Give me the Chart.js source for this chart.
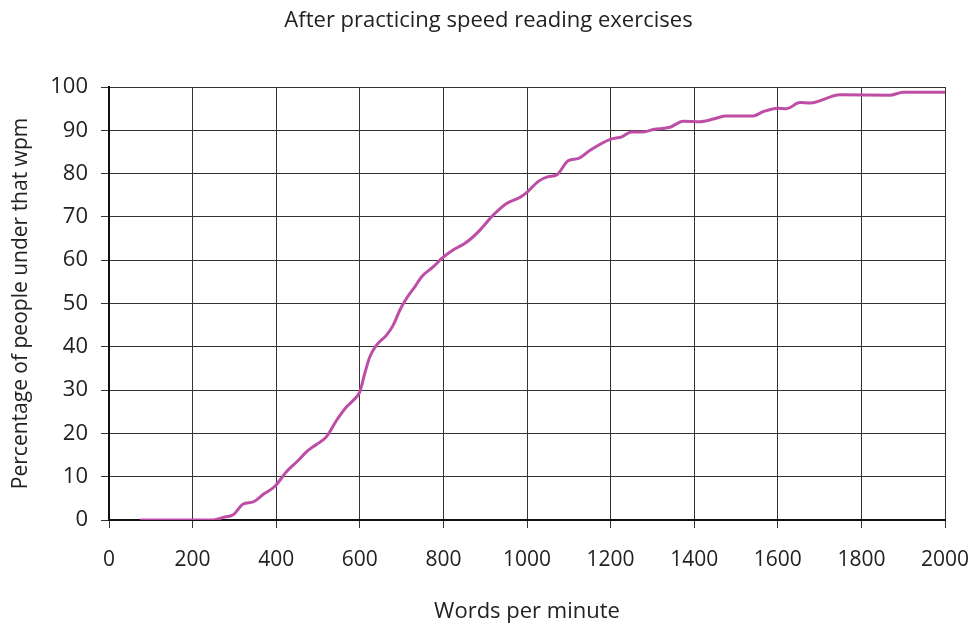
<!DOCTYPE html>
<html>
<head>
<meta charset="utf-8">
<script src="https://cdn.jsdelivr.net/npm/chart.js@4"></script>
<style>
  html, body { margin: 0; padding: 0; background: #fff; }
  #wrap { width: 973px; height: 625px; }
</style>
</head>
<body>
<div id="wrap"><canvas id="chart" width="973" height="625"></canvas></div>
<script>
// words per minute (x) and cumulative percentage (y)
const wpm = [75, 100, 150, 200, 250, 273, 297, 321, 345, 370, 397, 425, 450, 473, 497, 520,
  545, 569, 585, 600, 612, 624, 640, 664, 680, 696, 712, 732, 748, 776, 796, 824, 850, 870,
  888, 919, 951, 983, 999, 1027, 1051, 1071, 1099, 1123, 1151, 1199, 1227, 1250, 1278, 1302,
  1342, 1374, 1414, 1446, 1474, 1541, 1565, 1600, 1621, 1653, 1677, 1749, 1868, 1900, 2000];
const percent = [0, 0, 0, 0, 0, 0.6, 1.2, 3.7, 4.2, 6, 7.8, 11.2, 13.5, 15.8, 17.5, 19.2,
  23.1, 26.2, 27.7, 29.6, 33.9, 37.7, 40.4, 42.7, 45, 48.5, 51.2, 53.9, 56.2, 58.5, 60.4, 62.4, 63.8, 65.3,
  67.0, 70.4, 73.1, 74.5, 75.6, 78.2, 79.3, 79.7, 83.0, 83.5, 85.4, 87.9, 88.5, 89.6, 89.6, 90.2,
  90.7, 92.1, 92.0, 92.6, 93.3, 93.3, 94.3, 95.1, 95.0, 96.4, 96.3, 98.2, 98.1, 98.8, 98.8];

const xTicks = [0, 200, 400, 600, 800, 1000, 1200, 1400, 1600, 1800, 2000];
const yTicks = [0, 10, 20, 30, 40, 50, 60, 70, 80, 90, 100];

const TITLE = "After practicing speed reading exercises";
const FONT = "'Open Sans', 'Noto Sans', sans-serif";
const TEXT = "#222";

const points = wpm.map((w, i) => ({ x: w, y: percent[i] }));

// title centred on the whole canvas, not on the padded layout box
const pageTitle = {
  id: "pageTitle",
  afterDraw(chart) {
    const c = chart.ctx;
    c.save();
    c.font = "22px " + FONT;
    c.fillStyle = TEXT;
    c.textAlign = "center";
    c.textBaseline = "middle";
    c.fillText(TITLE, chart.width / 2 + 2, 21);
    c.restore();
  },
};

const ctx = document.getElementById("chart").getContext("2d");
new Chart(ctx, {
  type: "line",
  data: {
    datasets: [{
      label: "Percentage",
      data: points,
      borderColor: "#BE4DA6",
      borderWidth: 3,
      pointRadius: 0,
      tension: 0.4,
      cubicInterpolationMode: "monotone",
      fill: false,
    }],
  },
  plugins: [pageTitle],
  options: {
    responsive: false,
    animation: false,
    layout: { padding: { left: 0, right: 28, top: 87, bottom: 0 } },
    plugins: {
      legend: { display: false },
      tooltip: { enabled: false },
      title: { display: false },
    },
    scales: {
      x: {
        type: "linear",
        min: 0,
        max: 2000,
        afterBuildTicks: (scale) => { scale.ticks = xTicks.map(v => ({ value: v })); },
        afterFit: (scale) => {
          scale.height = 105;
          scale.paddingRight = 0;
          scale.paddingLeft = 0;
        },
        grid: { color: "#333", lineWidth: 1, tickLength: 8, drawTicks: true },
        border: { color: "#111", width: 2 },
        ticks: {
          color: TEXT,
          font: { family: FONT, size: 21 },
          padding: 19,
          maxRotation: 0,
          autoSkip: false,
          callback: (v) => String(v),
        },
        title: {
          display: true,
          text: "Words per minute",
          color: TEXT,
          font: { family: FONT, size: 22 },
          padding: { top: 0, bottom: 0 },
        },
      },
      y: {
        min: 0,
        max: 100,
        afterBuildTicks: (scale) => { scale.ticks = yTicks.map(v => ({ value: v })); },
        afterFit: (scale) => {
          scale.width = 109;
          scale.paddingTop = 0;
          scale.paddingBottom = 0;
        },
        grid: { color: "#333", lineWidth: 1, tickLength: 8 },
        border: { color: "#111", width: 2 },
        ticks: {
          color: TEXT,
          font: { family: FONT, size: 22 },
          padding: 13,
        },
        title: {
          display: true,
          text: "Percentage of people under that wpm",
          color: TEXT,
          font: { family: FONT, size: 21 },
          padding: { top: 8, bottom: 0 },
        },
      },
    },
  },
});
</script>
</body>
</html>
